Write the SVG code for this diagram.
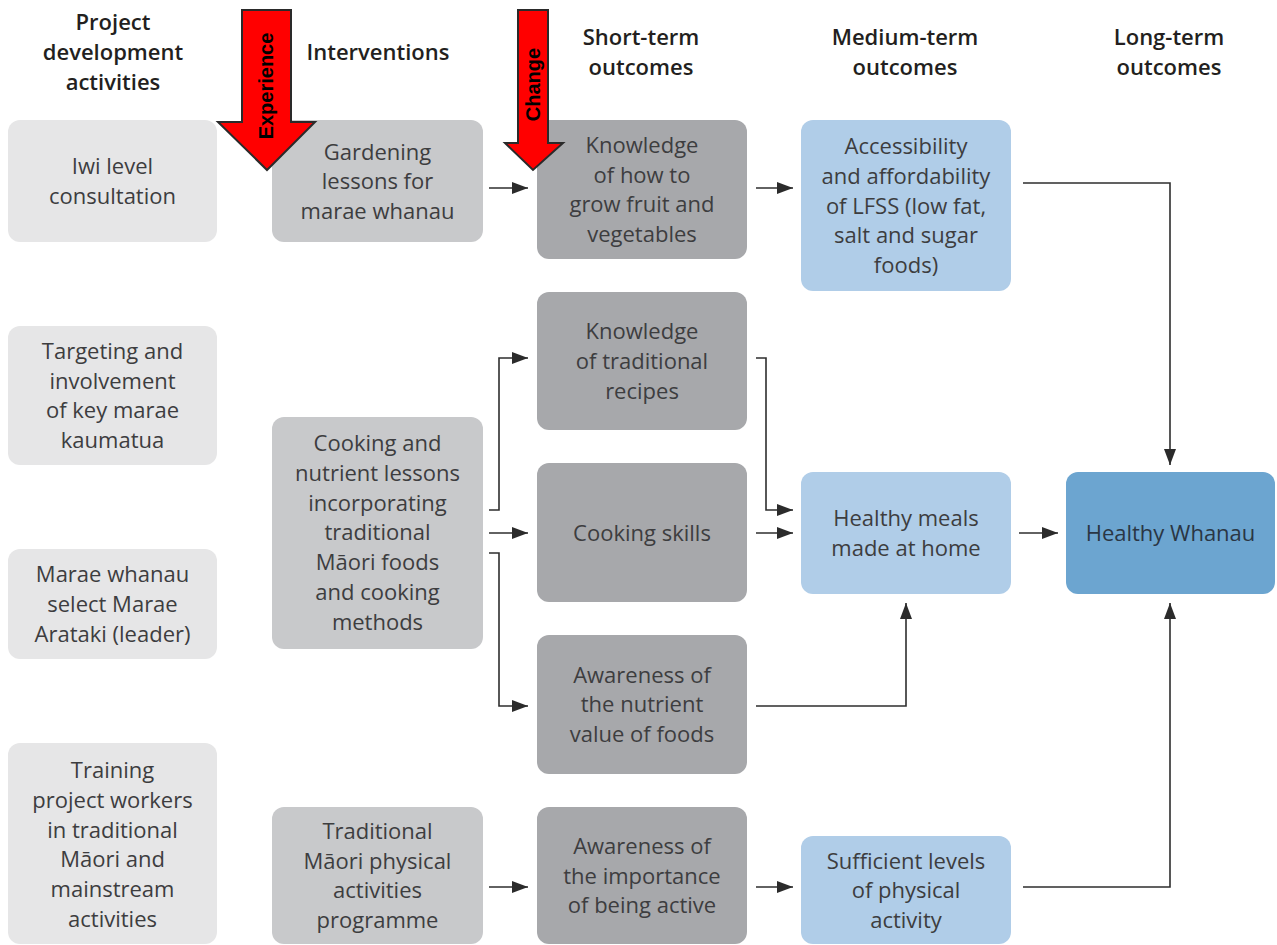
<svg xmlns="http://www.w3.org/2000/svg" width="1277" height="945" viewBox="0 0 1277 945">
<defs>
<marker id="ah" viewBox="0 0 16 12" refX="16" refY="6" markerUnits="userSpaceOnUse" markerWidth="16" markerHeight="12" orient="auto">
<path d="M0,0 L16,6 L0,12 z" fill="#2b2b2b"/>
</marker>
<style>
.hd{font-family:"Open Sans","Noto Sans",sans-serif;font-size:22px;font-weight:600;fill:#231f20;text-anchor:middle}
.tx{font-family:"Open Sans","Noto Sans",sans-serif;font-size:22px;font-weight:400;fill:#3d3d3f;text-anchor:middle}
.c1{fill:#e6e6e7}
.c2{fill:#c8c9cb}
.c3{fill:#a7a8ab}
.c4{fill:#b0cde8}
.c5{fill:#6ca5d0}
.cn{fill:none;stroke:#2e2e2e;stroke-width:1.6;marker-end:url(#ah)}
.red{fill:#ff0000;stroke:#2a2a2a;stroke-width:2;stroke-linejoin:miter}
.rt{font-family:"Liberation Sans",Arial,sans-serif;font-size:20px;font-weight:700;fill:#000;text-anchor:middle}
</style>
</defs>
<rect width="1277" height="945" fill="#ffffff"/>

<g id="headers">
<text class="hd" x="113" y="30">Project</text>
<text class="hd" x="113" y="60">development</text>
<text class="hd" x="113" y="90">activities</text>
<text class="hd" x="378" y="60">Interventions</text>
<text class="hd" x="641" y="45">Short-term</text>
<text class="hd" x="641" y="75">outcomes</text>
<text class="hd" x="905" y="45">Medium-term</text>
<text class="hd" x="905" y="75">outcomes</text>
<text class="hd" x="1169" y="45">Long-term</text>
<text class="hd" x="1169" y="75">outcomes</text>
</g>

<g id="n-iwi"><rect class="c1" x="8" y="120" width="209" height="122" rx="12"/>
<text class="tx" x="112.5" y="174">Iwi level</text><text class="tx" x="112.5" y="204">consultation</text></g>
<g id="n-targeting"><rect class="c1" x="8" y="326" width="209" height="139" rx="12"/>
<text class="tx" x="112.5" y="359">Targeting and</text><text class="tx" x="112.5" y="389">involvement</text><text class="tx" x="112.5" y="418">of key marae</text><text class="tx" x="112.5" y="448">kaumatua</text></g>
<g id="n-marae"><rect class="c1" x="8" y="549" width="209" height="110" rx="12"/>
<text class="tx" x="112.5" y="582">Marae whanau</text><text class="tx" x="112.5" y="612">select Marae</text><text class="tx" x="112.5" y="642">Arataki (leader)</text></g>
<g id="n-training"><rect class="c1" x="8" y="743" width="209" height="201" rx="12"/>
<text class="tx" x="112.5" y="778">Training</text><text class="tx" x="112.5" y="808">project workers</text><text class="tx" x="112.5" y="838">in traditional</text><text class="tx" x="112.5" y="867">Māori and</text><text class="tx" x="112.5" y="897">mainstream</text><text class="tx" x="112.5" y="927">activities</text></g>

<g id="n-gardening"><rect class="c2" x="272" y="120" width="211" height="122" rx="12"/>
<text class="tx" x="377.5" y="160">Gardening</text><text class="tx" x="377.5" y="189">lessons for</text><text class="tx" x="377.5" y="219">marae whanau</text></g>
<g id="n-cooking-lessons"><rect class="c2" x="272" y="417" width="211" height="232" rx="12"/>
<text class="tx" x="377.5" y="451">Cooking and</text><text class="tx" x="377.5" y="481">nutrient lessons</text><text class="tx" x="377.5" y="511">incorporating</text><text class="tx" x="377.5" y="540">traditional</text><text class="tx" x="377.5" y="570">Māori foods</text><text class="tx" x="377.5" y="600">and cooking</text><text class="tx" x="377.5" y="630">methods</text></g>
<g id="n-physical"><rect class="c2" x="272" y="807" width="211" height="137" rx="12"/>
<text class="tx" x="377.5" y="839">Traditional</text><text class="tx" x="377.5" y="869">Māori physical</text><text class="tx" x="377.5" y="898">activities</text><text class="tx" x="377.5" y="928">programme</text></g>

<g id="n-know-grow"><rect class="c3" x="537" y="120" width="210" height="139" rx="12"/>
<text class="tx" x="642" y="153">Knowledge</text><text class="tx" x="642" y="183">of how to</text><text class="tx" x="642" y="212">grow fruit and</text><text class="tx" x="642" y="242">vegetables</text></g>
<g id="n-know-recipes"><rect class="c3" x="537" y="292" width="210" height="138" rx="12"/>
<text class="tx" x="642" y="339">Knowledge</text><text class="tx" x="642" y="369">of traditional</text><text class="tx" x="642" y="399">recipes</text></g>
<g id="n-cooking-skills"><rect class="c3" x="537" y="463" width="210" height="139" rx="12"/>
<text class="tx" x="642" y="541">Cooking skills</text></g>
<g id="n-aware-nutrient"><rect class="c3" x="537" y="635" width="210" height="139" rx="12"/>
<text class="tx" x="642" y="683">Awareness of</text><text class="tx" x="642" y="712">the nutrient</text><text class="tx" x="642" y="742">value of foods</text></g>
<g id="n-aware-active"><rect class="c3" x="537" y="807" width="210" height="137" rx="12"/>
<text class="tx" x="642" y="854">Awareness of</text><text class="tx" x="642" y="884">the importance</text><text class="tx" x="642" y="913">of being active</text></g>

<g id="n-access"><rect class="c4" x="801" y="120" width="210" height="171" rx="12"/>
<text class="tx" x="906" y="154">Accessibility</text><text class="tx" x="906" y="184">and affordability</text><text class="tx" x="906" y="214">of LFSS (low fat,</text><text class="tx" x="906" y="243">salt and sugar</text><text class="tx" x="906" y="273">foods)</text></g>
<g id="n-meals"><rect class="c4" x="801" y="472" width="210" height="122" rx="12"/>
<text class="tx" x="906" y="526">Healthy meals</text><text class="tx" x="906" y="556">made at home</text></g>
<g id="n-sufficient"><rect class="c4" x="801" y="836" width="210" height="108" rx="12"/>
<text class="tx" x="906" y="869">Sufficient levels</text><text class="tx" x="906" y="898">of physical</text><text class="tx" x="906" y="928">activity</text></g>

<g id="n-whanau"><rect class="c5" x="1066" y="472" width="209" height="122" rx="12"/>
<text class="tx" x="1170.5" y="541" style="fill:#2a3644">Healthy Whanau</text></g>

<g id="connectors">
<path class="cn" d="M489,188 H528"/>
<path class="cn" d="M756,188 H793"/>
<path class="cn" d="M1023,183 H1170 V465"/>
<path class="cn" d="M489,510 H499 V358 H528"/>
<path class="cn" d="M489,533 H528"/>
<path class="cn" d="M489,553 H499 V706 H528"/>
<path class="cn" d="M756,358 H766 V510 H793"/>
<path class="cn" d="M756,533 H793"/>
<path class="cn" d="M756,706 H906 V603"/>
<path class="cn" d="M1019,533 H1058"/>
<path class="cn" d="M489,887 H528"/>
<path class="cn" d="M756,887 H793"/>
<path class="cn" d="M1023,887 H1170 V603"/>
</g>

<g id="experience-arrow">
<polygon class="red" points="242,10 291,10 291,122 315,122 267,170 218,122 242,122"/>
<text class="rt" transform="translate(273,86) rotate(-90)">Experience</text>
</g>
<g id="change-arrow">
<polygon class="red" points="518,10 548,10 548,143 563,143 533,170 505,143 518,143"/>
<text class="rt" transform="translate(540,84.5) rotate(-90)">Change</text>
</g>
</svg>
